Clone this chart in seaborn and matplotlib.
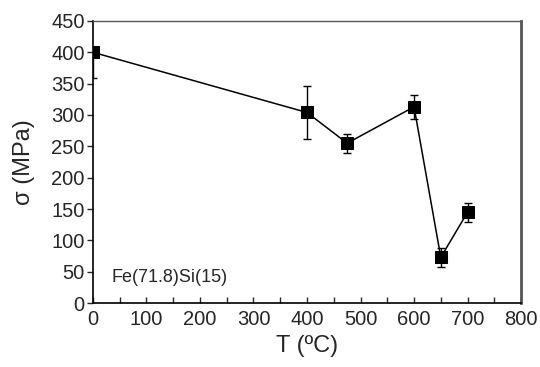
import numpy as np
import pandas as pd
import matplotlib
matplotlib.use("Agg")
import matplotlib.pyplot as plt
import seaborn as sns
from matplotlib.ticker import MultipleLocator

# ---------- DATA ----------
temps = [0, 400, 475, 600, 650, 700]
sigma = [400, 304, 255, 313, 73, 145]
err_lo = [41, 42, 15, 19, 15, 15]
err_hi = [0, 42, 15, 19, 15, 15]
label_text = "Fe(71.8)Si(15)"

sns.set_style("ticks")
plt.rcParams["font.family"] = ["Liberation Sans", "DejaVu Sans"]

df = pd.DataFrame({"T": temps, "sigma": sigma})

fig = plt.figure(figsize=(5.4, 3.67), dpi=100)
ax = fig.add_axes([0.172, 0.174, 0.793, 0.769])

ax.errorbar(temps, sigma, yerr=[err_lo, err_hi], fmt="none",
            ecolor="black", elinewidth=1.0, capsize=3, capthick=1.0, zorder=2)
sns.lineplot(data=df, x="T", y="sigma", ax=ax, color="black", lw=1.1,
             marker="s", markersize=8, markeredgecolor="black",
             markerfacecolor="black", zorder=3)

ax.set_xlim(0, 800)
ax.set_ylim(0, 450)
ax.xaxis.set_major_locator(MultipleLocator(100))
ax.xaxis.set_minor_locator(MultipleLocator(50))
ax.yaxis.set_major_locator(MultipleLocator(50))
ax.tick_params(axis="x", which="both", direction="in", length=4, width=1,
               labelsize=14.5, pad=5)
ax.tick_params(axis="y", which="major", direction="out", length=4, width=1,
               labelsize=14.5, pad=2)

for s in ["left", "bottom"]:
    ax.spines[s].set_color("black")
    ax.spines[s].set_linewidth(1.2)
ax.spines["top"].set_color("#555555")
ax.spines["top"].set_linewidth(1.0)
ax.spines["right"].set_color("#555555")
ax.spines["right"].set_linewidth(2.0)

ax.set_xlabel("T (ºC)", fontsize=17, labelpad=4)
ax.set_ylabel("σ (MPa)", fontsize=17)
ax.yaxis.set_label_coords(-0.135, 0.5)
ax.text(34, 41, label_text, fontsize=13, va="center", ha="left")

fig.savefig("out.png", dpi=100)
